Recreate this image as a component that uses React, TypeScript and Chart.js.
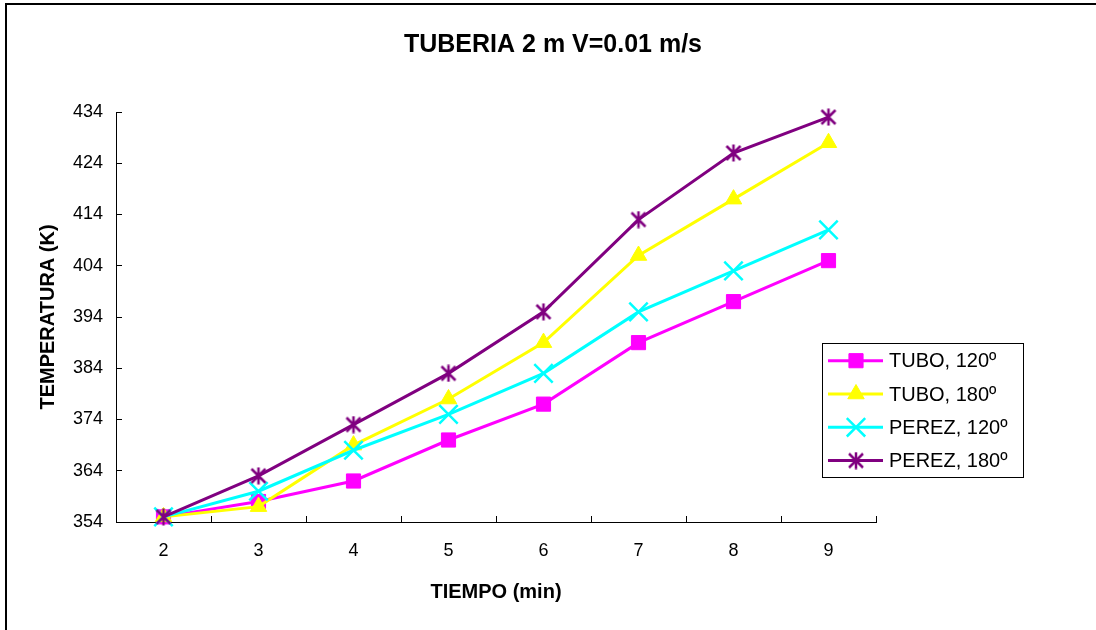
import React, { useEffect, useRef } from 'react';
import { Chart, registerables } from 'chart.js';
import { drawPoint } from 'chart.js/helpers';

Chart.register(...registerables);

// ---- data ----
const categories = ['2', '3', '4', '5', '6', '7', '8', '9'];
const tubo120 = [355, 358, 362, 370, 377, 389, 397, 405];
const tubo180 = [355, 357, 369, 378, 389, 406, 417, 428];
const perez120 = [355, 360, 368, 375, 383, 395, 403, 411];
const perez180 = [355, 363, 373, 383, 395, 413, 426, 433];
const seriesNames = ['TUBO, 120º', 'TUBO, 180º', 'PEREZ, 120º', 'PEREZ, 180º'];
const yMin = 354;
const yMax = 434;
const yStep = 10;
const chartTitle = 'TUBERIA 2 m V=0.01 m/s';
const xTitle = 'TIEMPO (min)';
const yTitle = 'TEMPERATURA (K)';

const FONT = '"Liberation Sans", Arial, Helvetica, sans-serif';

function makeStar(color: string, size: number, lw: number) {
  const c = document.createElement('canvas');
  c.width = size;
  c.height = size;
  const g = c.getContext('2d')!;
  g.strokeStyle = color;
  g.lineWidth = lw;
  const m = 2;
  g.beginPath();
  g.moveTo(m, m);
  g.lineTo(size - m, size - m);
  g.moveTo(size - m, m);
  g.lineTo(m, size - m);
  g.moveTo(size / 2, 0.5);
  g.lineTo(size / 2, size - 0.5);
  g.stroke();
  return c;
}

export default function App() {
  const ref = useRef<HTMLCanvasElement | null>(null);

  useEffect(() => {
    if (!ref.current) return;
    const star = makeStar('#800080', 18, 2.5);

    const framePlugin = {
      id: 'frame',
      beforeDraw(chart: any) {
        const ctx = chart.ctx;
        ctx.save();
        ctx.fillStyle = '#fff';
        ctx.fillRect(0, 0, chart.width, chart.height);
        ctx.strokeStyle = '#000';
        ctx.lineWidth = 2;
        ctx.beginPath();
        ctx.moveTo(6, chart.height + 5);
        ctx.lineTo(6, 4);
        ctx.lineTo(chart.width + 5, 4);
        ctx.stroke();
        ctx.restore();
      },
      afterDraw(chart: any) {
        const ctx = chart.ctx;
        ctx.save();
        // title
        ctx.fillStyle = '#000';
        ctx.font = 'bold 25px ' + FONT;
        ctx.textAlign = 'center';
        ctx.textBaseline = 'alphabetic';
        ctx.fillText(chartTitle, 553, 52);
        // legend
        ctx.strokeStyle = '#000';
        ctx.lineWidth = 1;
        ctx.strokeRect(822.5, 343.5, 201, 134);
        chart.data.datasets.forEach((ds: any, i: number) => {
          const ly = 360.7 + i * 33.3;
          ctx.strokeStyle = ds.borderColor;
          ctx.lineWidth = ds.borderWidth;
          ctx.beginPath();
          ctx.moveTo(828, ly);
          ctx.lineTo(883, ly);
          ctx.stroke();
          ctx.fillStyle = ds.pointBackgroundColor;
          ctx.strokeStyle = ds.pointBorderColor;
          ctx.lineWidth = ds.pointBorderWidth;
          drawPoint(ctx, {
            pointStyle: ds.pointStyle,
            radius: ds.pointRadius,
            borderWidth: ds.pointBorderWidth,
            rotation: 0,
          } as any, 856, ly);
          ctx.fillStyle = '#000';
          ctx.font = '20px ' + FONT;
          ctx.textAlign = 'left';
          ctx.textBaseline = 'alphabetic';
          ctx.fillText(ds.label, 889, ly + 6.7);
        });
        ctx.restore();
      },
    };

    const chart = new Chart(ref.current, {
      type: 'line',
      data: {
        labels: categories,
        datasets: [
          {
            label: seriesNames[0],
            data: tubo120,
            borderColor: '#FF00FF',
            backgroundColor: '#FF00FF',
            borderWidth: 3,
            pointStyle: 'rect',
            pointRadius: 10,
            pointBackgroundColor: '#FF00FF',
            pointBorderColor: '#FF00FF',
            pointBorderWidth: 1,
            order: 4,
            clip: false,
          },
          {
            label: seriesNames[1],
            data: tubo180,
            borderColor: '#FFFF00',
            backgroundColor: '#FFFF00',
            borderWidth: 3,
            pointStyle: 'triangle',
            pointRadius: 9.5,
            pointBackgroundColor: '#FFFF00',
            pointBorderColor: '#FFFF00',
            pointBorderWidth: 1,
            order: 3,
            clip: false,
          },
          {
            label: seriesNames[2],
            data: perez120,
            borderColor: '#00FFFF',
            backgroundColor: '#00FFFF',
            borderWidth: 3,
            pointStyle: 'crossRot',
            pointRadius: 13,
            pointBackgroundColor: '#00FFFF',
            pointBorderColor: '#00FFFF',
            pointBorderWidth: 2.5,
            order: 2,
            clip: false,
          },
          {
            label: seriesNames[3],
            data: perez180,
            borderColor: '#800080',
            backgroundColor: '#800080',
            borderWidth: 3,
            pointStyle: star as any,
            pointRadius: 9,
            pointBackgroundColor: '#800080',
            pointBorderColor: '#800080',
            pointBorderWidth: 2.5,
            order: 1,
            clip: false,
          },
        ] as any,
      },
      options: {
        responsive: false,
        maintainAspectRatio: false,
        devicePixelRatio: 1,
        animation: false,
        events: [],
        layout: { padding: { top: 112, left: 0, right: 220, bottom: 0 } },
        plugins: {
          legend: { display: false },
          title: { display: false },
          tooltip: { enabled: false },
        },
        elements: { line: { tension: 0 } },
        scales: {
          x: {
            type: 'category',
            offset: true,
            grid: {
              display: true,
              drawOnChartArea: false,
              drawTicks: true,
              tickLength: -6,
              tickColor: '#000',
              offset: true,
            },
            border: { display: true, color: '#000', width: 1 },
            ticks: {
              color: '#000',
              font: { family: FONT, size: 18 },
              padding: 24,
              maxRotation: 0,
              autoSkip: false,
            },
            title: {
              display: true,
              text: xTitle,
              color: '#000',
              font: { family: FONT, size: 20, weight: 'bold' },
              padding: { top: 0, bottom: 26 },
            },
            afterFit(scale: any) {
              scale.height = 108;
            },
          },
          y: {
            type: 'linear',
            min: yMin,
            max: yMax,
            grid: {
              display: true,
              drawOnChartArea: false,
              drawTicks: true,
              tickLength: -6,
              tickColor: '#000',
            },
            border: { display: true, color: '#000', width: 1 },
            ticks: {
              stepSize: yStep,
              color: '#000',
              font: { family: FONT, size: 18 },
              padding: 19,
            },
            title: {
              display: true,
              text: yTitle,
              color: '#000',
              font: { family: FONT, size: 20, weight: 'bold' },
              padding: { top: 36, bottom: 0 },
            },
            afterFit(scale: any) {
              scale.width = 116;
            },
          },
        } as any,
      },
      plugins: [framePlugin],
    });
    return () => chart.destroy();
  }, []);

  return (
    <div style={{ position: 'fixed', left: 0, top: 0, width: 1096, height: 630, background: '#fff' }}>
      <canvas ref={ref} width={1096} height={630} style={{ display: 'block', width: 1096, height: 630 }} />
    </div>
  );
}
